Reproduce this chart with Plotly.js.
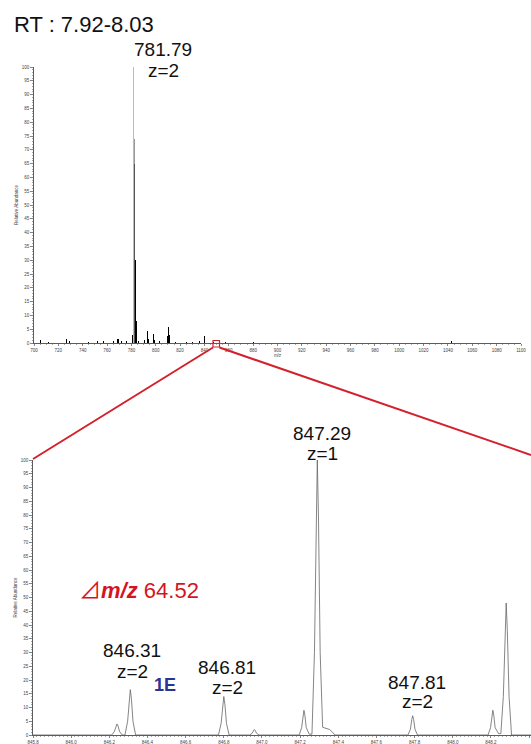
<!DOCTYPE html>
<html>
<head>
<meta charset="utf-8">
<script src="https://cdn.plot.ly/plotly-3.0.1.min.js"></script>
<style>html,body{margin:0;padding:0;background:#fff}#chart{width:531px;height:744px}</style>
</head>
<body>
<div id="chart"></div>
<script>
// ---- Top spectrum (full scan, stick peaks) ----
var mzTop  = [705, 712, 727, 729, 745, 752, 757, 765, 769, 772, 776, 781.29, 781.79, 782.29, 782.79, 783.29, 783.79, 786, 791, 793, 794, 797.8, 799, 803, 809.8, 810.8, 811.5, 816, 825, 830, 836, 839.7, 847.3, 857, 880, 1043];
var intTop = [1.2, 0.4, 1.5, 0.8, 0.5, 0.6, 0.7, 0.8, 1.3, 0.6, 0.8, 3, 100, 74, 65, 30, 8, 0.8, 1, 4.3, 1.5, 3.3, 1, 0.6, 2.5, 5.8, 3, 0.5, 0.5, 0.4, 0.6, 2.5, 0.5, 0.3, 0.3, 0.6];
var colTop = ['#000','#000','#000','#000','#000','#000','#000','#000','#000','#000','#000','#000','#bbb','#999','#555','#000','#000','#000','#000','#000','#000','#000','#000','#000','#000','#000','#000','#000','#000','#000','#000','#000','#000','#000','#000','#000'];

// ---- Bottom spectrum (zoomed profile) ----
var mzZoom = [845.80,
  846.212, 846.226, 846.234, 846.240, 846.246, 846.254, 846.268,
  846.282, 846.296, 846.304, 846.310, 846.316, 846.324, 846.338,
  846.772, 846.786, 846.794, 846.800, 846.806, 846.814, 846.828,
  846.935, 846.948, 846.955, 846.960, 846.965, 846.972, 846.985,
  847.195, 847.208, 847.215, 847.220, 847.225, 847.232, 847.248,
  847.262, 847.275, 847.284, 847.290, 847.296, 847.305, 847.318, 847.335, 847.355, 847.370, 847.382,
  847.765, 847.778, 847.785, 847.790, 847.795, 847.802, 847.815,
  848.185, 848.198, 848.205, 848.210, 848.215, 848.222, 848.240,
  848.252, 848.265, 848.274, 848.280, 848.286, 848.295, 848.308,
  848.41];
var intZoom = [0,
  0, 1.2, 3.2, 4, 3.2, 1.2, 0,
  0, 5, 13, 16.5, 13, 5, 0,
  0, 4.2, 11, 14, 11, 4.2, 0,
  0, 0.6, 1.6, 2, 1.6, 0.6, 0,
  0, 2.7, 7.2, 9, 7.2, 2.7, 0.3,
  0.3, 30, 80, 100, 80, 30, 2.8, 2.5, 2, 1, 0,
  0, 2.1, 5.6, 7, 5.6, 2.1, 0,
  0, 2.7, 7.2, 9, 7.2, 2.7, 0.5,
  0.5, 14, 38, 48, 38, 14, 0,
  0];

// ---- Texts ----
var rtText = 'RT : 7.92-8.03';
var peakMz     = ['781.79', '847.29', '846.31', '846.81', '847.81'];
var peakCharge = ['z=2', 'z=1', 'z=2', 'z=2', 'z=2'];
var deltaText = '<span style="font-family:\'Noto Sans CJK JP\'">⊿</span><b><i>m/z</i></b> 64.52';
var isoText = '<b>1E</b>';

// label placement (pixels): [x, y of first line, y of second line]
var labelPos = [[163, 50, 70], [322, 433, 453], [132, 650, 671], [227, 667, 687], [417, 682, 701]];

var W = 531, H = 744;
function px(x){ return x / W; }
function py(y){ return 1 - y / H; }

var FONT = 'Liberation Sans, Arial, sans-serif';
var tickFont = {family: FONT, size: 4.5, color: '#444'};

var traces = [
  {type: 'bar', x: mzTop, y: intTop, width: 0.9, marker: {color: colTop, line: {width: 0}},
   xaxis: 'x', yaxis: 'y', hoverinfo: 'x+y'},
  {type: 'scatter', mode: 'lines', x: mzZoom, y: intZoom, line: {color: '#666', width: 0.8},
   xaxis: 'x2', yaxis: 'y2', hoverinfo: 'x+y'}
];

function xax(domain, range, dtick, tick0, minor, fmt, title){
  return {domain: domain, range: range, dtick: dtick, tick0: tick0, tickformat: fmt,
    showline: true, linecolor: '#333', linewidth: 0.8, ticks: 'outside', ticklen: 2.5, tickwidth: 0.6, tickcolor: '#333',
    minor: {dtick: minor, ticks: 'outside', ticklen: 1.5, tickwidth: 0.5, tickcolor: '#555'},
    showgrid: false, zeroline: false, tickfont: tickFont, fixedrange: true,
    title: {text: title, font: {family: FONT, size: 4.5, color: '#444'}, standoff: 2}};
}
function yax(domain, anchor){
  return {domain: domain, range: [0, 100], dtick: 5, tick0: 0, anchor: anchor,
    showline: true, linecolor: '#333', linewidth: 0.8, ticks: 'outside', ticklen: 3, tickwidth: 0.6, tickcolor: '#333',
    minor: {dtick: 1, ticks: 'outside', ticklen: 1.5, tickwidth: 0.5, tickcolor: '#555'},
    showgrid: false, zeroline: false, tickfont: tickFont, fixedrange: true,
    title: {text: 'Relative Abundance', font: {family: FONT, size: 4.5, color: '#444'}, standoff: 3}};
}

var xa1 = xax([px(34), px(521)], [700, 1100], 20, 700, 5, 'd', 'm/z');
xa1.anchor = 'y';
var ya1 = yax([py(343), py(67)], 'x');
var xa2 = xax([px(33), 1], [845.8, 848.41], 0.2, 845.8, 0.02, '.1f', '');
xa2.anchor = 'y2';
var ya2 = yax([py(735), py(460)], 'x2');

var annotations = [
  {text: rtText, x: px(12), y: py(25), xref: 'paper', yref: 'paper', xanchor: 'left', yanchor: 'middle',
   showarrow: false, font: {family: FONT, size: 22, color: '#111'}},
  {text: deltaText, x: px(77), y: py(588), xref: 'paper', yref: 'paper', xanchor: 'left', yanchor: 'middle',
   showarrow: false, font: {family: FONT, size: 22, color: '#d4141f'}},
  {text: isoText, x: px(165), y: py(685), xref: 'paper', yref: 'paper', xanchor: 'center', yanchor: 'middle',
   showarrow: false, font: {family: FONT, size: 18, color: '#2b3591'}}
];
for (var i = 0; i < peakMz.length; i++){
  var p = labelPos[i];
  annotations.push({text: peakMz[i], x: px(p[0]), y: py(p[1]), xref: 'paper', yref: 'paper', xanchor: 'center', yanchor: 'middle',
    showarrow: false, font: {family: FONT, size: 19, color: '#111'}});
  annotations.push({text: peakCharge[i], x: px(p[0]), y: py(p[2]), xref: 'paper', yref: 'paper', xanchor: 'center', yanchor: 'middle',
    showarrow: false, font: {family: FONT, size: 19, color: '#111'}});
}

var RED = '#d4202c';
var shapes = [
  {type: 'rect', xref: 'paper', yref: 'paper', x0: px(213), x1: px(219.5), y0: py(347), y1: py(340.5),
   line: {color: RED, width: 1.2}, fillcolor: 'rgba(0,0,0,0)'},
  {type: 'line', xref: 'paper', yref: 'paper', x0: px(213), y0: py(347.5), x1: px(33), y1: py(459),
   line: {color: RED, width: 2}},
  {type: 'line', xref: 'paper', yref: 'paper', x0: px(219.5), y0: py(347.5), x1: px(531), y1: py(455),
   line: {color: RED, width: 2}}
];

var layout = {
  width: W, height: H, margin: {l: 0, r: 0, t: 0, b: 0},
  paper_bgcolor: '#fff', plot_bgcolor: '#fff', showlegend: false, bargap: 0,
  xaxis: xa1, yaxis: ya1, xaxis2: xa2, yaxis2: ya2,
  annotations: annotations, shapes: shapes,
  font: {family: FONT}
};

Plotly.newPlot('chart', traces, layout, {displayModeBar: false, staticPlot: true});
</script>
</body>
</html>
